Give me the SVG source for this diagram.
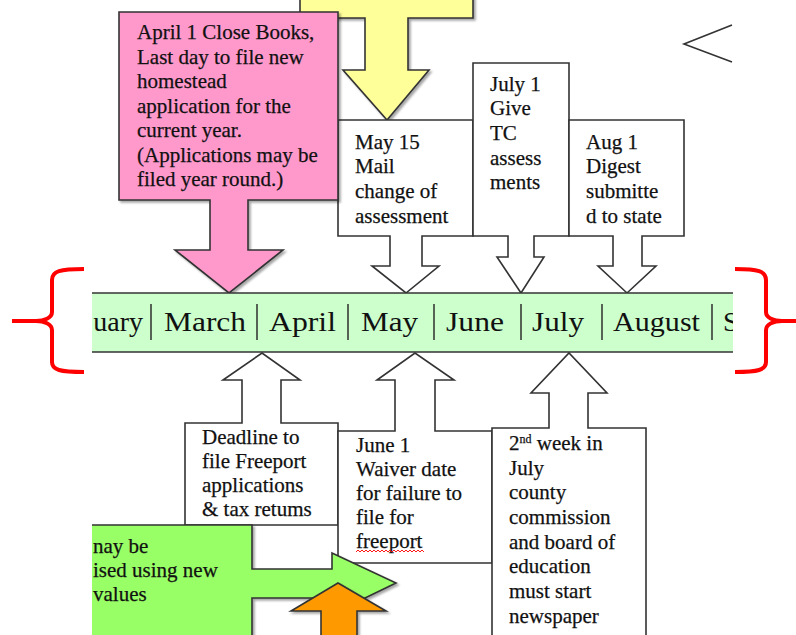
<svg xmlns="http://www.w3.org/2000/svg" width="796" height="635" viewBox="0 0 796 635">
<style>
.t{font-family:"Liberation Serif","Times New Roman",serif;font-size:21px;fill:#111;stroke:#111;stroke-width:0.25}
.m{font-family:"Liberation Serif","Times New Roman",serif;font-size:28px;fill:#111}
.co{stroke:#333;stroke-width:1.6;stroke-linejoin:miter}
.w{fill:#fff}
.br{fill:none;stroke:#ff0000;stroke-width:4;stroke-linecap:butt;stroke-linejoin:round}
</style>
<defs>
<clipPath id="page"><rect x="92" y="0" width="641" height="635"/></clipPath>
<filter id="sh" x="-10%" y="-10%" width="120%" height="120%"><feDropShadow dx="2" dy="2" stdDeviation="1" flood-color="#000" flood-opacity="0.35"/></filter>
</defs>

<g id="connectors"></g>

<g clip-path="url(#page)">
<g id="yellow-arrow">
<polygon class="co" fill="#ffff99" filter="url(#sh)" points="300,-5 473,-5 473,18 408,18 408,70 429,70 387,120 343,70 365,70 365,18 300,18"/>
</g>

<g id="may15">
<polygon class="co w" points="338,120 473,120 473,236 422,236 422,266 439,266 406,293 372,266 390,266 390,236 338,236"/>
<text class="t" x="355" y="149">May 15</text>
<text class="t" x="355" y="173">Mail</text>
<text class="t" x="355" y="198">change of</text>
<text class="t" x="355" y="223">assessment</text>
</g>

<g id="july1">
<polygon class="co w" points="473,63 569,63 569,236 534,236 534,257 544,257 521,293 497,257 508,257 508,236 473,236"/>
<text class="t" x="490" y="91">July 1</text>
<text class="t" x="490" y="115">Give</text>
<text class="t" x="490" y="140">TC</text>
<text class="t" x="490" y="165">assess</text>
<text class="t" x="490" y="189">ments</text>
</g>

<g id="aug1">
<polygon class="co w" points="569,120 684,120 684,236 642,236 642,266 656,266 627,293 598,266 613,266 613,236 569,236"/>
<text class="t" x="586" y="149">Aug 1</text>
<text class="t" x="586" y="173">Digest</text>
<text class="t" x="586" y="198">submitte</text>
<text class="t" x="586" y="223">d to state</text>
</g>

<g id="april1">
<polygon class="co" fill="#ff99cc" filter="url(#sh)" points="119,12 338,12 338,200 248,200 248,250 283,250 229,293 175,250 210,250 210,200 119,200"/>
<text class="t" x="137" y="39">April 1 Close Books,</text>
<text class="t" x="137" y="63.5">Last day to file new</text>
<text class="t" x="137" y="88">homestead</text>
<text class="t" x="137" y="112.5">application for the</text>
<text class="t" x="137" y="137">current year.</text>
<text class="t" x="137" y="161.5">(Applications may be</text>
<text class="t" x="137" y="186">filed year round.)</text>
</g>

<g id="timeline">
<rect x="92" y="293" width="641" height="59" fill="#ccffcc"/>
<line x1="92" y1="293" x2="733" y2="293" stroke="#333" stroke-width="1.6"/>
<line x1="92" y1="352" x2="733" y2="352" stroke="#333" stroke-width="1.6"/>
<g stroke="#222" stroke-width="1.4">
<line x1="151" y1="304" x2="151" y2="340"/>
<line x1="257" y1="304" x2="257" y2="340"/>
<line x1="348" y1="304" x2="348" y2="340"/>
<line x1="434" y1="304" x2="434" y2="340"/>
<line x1="521" y1="304" x2="521" y2="340"/>
<line x1="602" y1="304" x2="602" y2="340"/>
<line x1="712" y1="304" x2="712" y2="340"/>
</g>
<text class="m" x="143" y="331" text-anchor="end">uary</text>
<text class="m" x="164" y="331" textLength="82" lengthAdjust="spacingAndGlyphs">March</text>
<text class="m" x="269" y="331" textLength="67" lengthAdjust="spacingAndGlyphs">April</text>
<text class="m" x="361" y="331" textLength="57" lengthAdjust="spacingAndGlyphs">May</text>
<text class="m" x="446" y="331" textLength="58" lengthAdjust="spacingAndGlyphs">June</text>
<text class="m" x="532" y="331" textLength="52" lengthAdjust="spacingAndGlyphs">July</text>
<text class="m" x="613" y="331" textLength="87" lengthAdjust="spacingAndGlyphs">August</text>
<text class="m" x="723" y="331">S</text>
</g>

<g id="deadline">
<polygon class="co w" points="185,525 185,423 242,423 242,380 223,380 262,353 300,380 281,380 281,423 338,423 338,525"/>
<text class="t" x="202" y="444">Deadline to</text>
<text class="t" x="202" y="468">file Freeport</text>
<text class="t" x="202" y="492">applications</text>
<text class="t" x="202" y="516">&amp; tax retums</text>
</g>

<g id="june1">
<polygon class="co w" points="338,563 338,431 395,431 395,380 377,380 415,353 454,380 435,380 435,431 492,431 492,563"/>
<text class="t" x="356" y="452">June 1</text>
<text class="t" x="356" y="476">Waiver date</text>
<text class="t" x="356" y="500">for failure to</text>
<text class="t" x="356" y="524">file for</text>
<text class="t" x="356" y="548">freeport</text>
<path d="M356,552 l2,-2 l2,2 l2,-2 l2,2 l2,-2 l2,2 l2,-2 l2,2 l2,-2 l2,2 l2,-2 l2,2 l2,-2 l2,2 l2,-2 l2,2 l2,-2 l2,2 l2,-2 l2,2 l2,-2 l2,2 l2,-2 l2,2 l2,-2 l2,2 l2,-2 l2,2 l2,-2 l2,2 l2,-2 l2,2 l2,-2 l2,2" fill="none" stroke="#ff0000" stroke-width="0.9"/>
</g>

<g id="week2">
<polygon class="co w" points="492,645 492,428 549,428 549,393 531,393 569,353 607,393 588,393 588,428 646,428 646,645"/>
<text class="t" x="509" y="450">2<tspan font-size="12" dy="-7">nd</tspan><tspan dy="7"> week in</tspan></text>
<text class="t" x="509" y="475">July</text>
<text class="t" x="509" y="499">county</text>
<text class="t" x="509" y="524">commission</text>
<text class="t" x="509" y="549">and board of</text>
<text class="t" x="509" y="573">education</text>
<text class="t" x="509" y="598">must start</text>
<text class="t" x="509" y="623">newspaper</text>
</g>

<g id="green-arrow">
<polygon class="co" fill="#99ff66" filter="url(#sh)" points="80,525 252,525 252,569 332,569 332,553 396,583 332,614 332,598 252,598 252,645 80,645"/>
<text class="t" x="93" y="553">nay be</text>
<text class="t" x="93" y="577">ised using new</text>
<text class="t" x="93" y="601">values</text>
</g>

<g id="orange-arrow">
<polygon class="co" fill="#ff9900" filter="url(#sh)" points="321,645 321,611 291,611 338,583 386,611 357,611 357,645"/>
</g>
</g>

<g id="chevron">
<polyline points="732,25 684,44 732,62" fill="none" stroke="#333" stroke-width="1.6"/>
</g>

<g id="brace-left">
<path class="br" d="M84,269 C60,269 52,271 52,280 L52,312 C52,318 44,321 36,321 L12,321 M36,321 C44,321 52,324 52,330 L52,362 C52,370 60,372 84,372"/>
</g>
<g id="brace-right">
<path class="br" d="M735,269 C758,269 766,271 766,280 L766,312 C766,318 774,321 782,321 L798,321 M782,321 C774,321 766,324 766,330 L766,362 C766,370 758,372 735,372"/>
</g>
</svg>
